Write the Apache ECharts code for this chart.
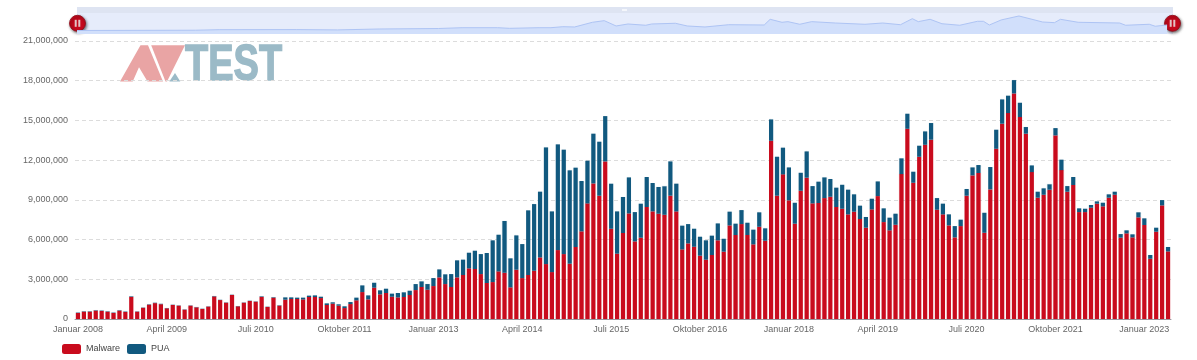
<!DOCTYPE html>
<html><head><meta charset="utf-8">
<style>html,body{margin:0;padding:0;background:#fff}#c{width:1197px;height:360px}</style>
<script src="https://cdn.jsdelivr.net/npm/echarts@6/dist/echarts.min.js"></script>
</head><body><div id="c"></div>
<script>
const monthNames = ['Januar','Februar','März','April','Mai','Juni','Juli','August','September','Oktober','November','Dezember'];
const firstYear = 2008;
const monthCount = 185;
const yTicks = {max:21000000, step:3000000};
// Millions of samples per month.
const stackTopM = [
.48,.58,.58,.66,.63,.58,.48,.66,.56,1.7,.57,.86,1.1,1.22,1.14,.82,1.07,1.02,.72,1.02,.89,.77,.95,1.72,1.44,1.24,1.82,.97,1.24,1.37,1.32,1.7,.92,1.64,1.03,1.62,1.62,1.6,
1.6,1.75,1.77,1.67,1.17,1.25,1.1,.95,1.27,1.6,2.52,1.77,2.72,2.15,2.27,1.9,1.95,2.0,2.12,2.62,2.82,2.62,3.07,3.72,3.35,3.37,4.4,4.45,4.97,5.12,4.87,4.95,5.9,6.32,7.35,4.55,6.27,5.62,8.15,8.62,9.55,12.87,8.07,13.1,12.7,11.15,11.35,10.35,11.87,13.9,13.3,15.22,10.15,8.07,
9.15,10.62,8.02,8.65,10.65,10.2,9.9,9.95,11.82,10.15,7.0,7.12,6.77,6.17,5.9,6.25,7.17,6.02,8.05,7.15,8.17,7.22,6.7,8.0,6.8,14.97,12.17,12.85,11.37,8.72,10.97,12.57,9.97,10.3,10.62,10.5,9.85,10.07,9.7,9.35,8.5,7.65,9.02,10.32,8.3,7.6,7.9,
12.05,15.4,11.05,13.0,14.07,14.7,9.07,8.65,7.85,6.97,7.45,9.75,11.37,11.55,7.97,11.4,14.2,16.47,16.75,17.92,16.22,14.4,11.52,9.55,9.8,10.1,14.32,11.95,9.97,10.65,8.3,8.27,8.55,8.82,8.72,9.35,9.55,6.37,6.65,6.35,8.0,7.55,4.8,6.85,8.92,5.4];
const malwareM = [
.45,.55,.55,.63,.6,.55,.45,.63,.53,1.66,.55,.84,1.07,1.19,1.11,.8,1.05,1.0,.7,1.0,.87,.75,.93,1.69,1.42,1.22,1.8,.95,1.22,1.35,1.3,1.66,.9,1.6,1.0,1.45,1.5,1.5,
1.47,1.65,1.65,1.57,1.05,1.15,1.0,.82,1.12,1.4,2.02,1.47,2.35,1.85,1.95,1.67,1.62,1.65,1.8,2.17,2.4,2.2,2.47,3.12,2.62,2.4,3.12,3.3,3.8,3.75,3.37,2.7,2.77,3.57,3.47,2.37,3.7,3.07,3.3,3.62,4.62,4.12,3.52,5.17,4.87,4.15,5.4,6.57,8.67,10.17,9.25,11.82,6.77,4.9,
6.45,7.92,5.82,6.1,8.4,8.07,7.9,7.82,9.25,8.07,5.22,5.67,5.42,4.75,4.45,4.8,5.9,5.05,7.02,6.3,7.12,6.3,5.6,6.92,5.87,13.37,9.25,10.85,8.9,7.15,9.62,10.6,8.67,8.7,9.07,9.17,8.4,8.27,7.85,8.05,7.5,6.85,8.22,9.22,7.27,6.65,7.07,
10.87,14.27,10.22,12.17,13.07,13.45,8.2,7.85,7.02,6.12,6.97,9.25,10.77,10.95,6.47,9.72,12.77,14.65,15.45,16.92,15.15,13.9,11.02,9.1,9.32,9.7,13.77,11.17,9.55,10.05,8.02,8.02,8.35,8.65,8.45,9.1,9.32,6.1,6.42,6.12,7.62,7.05,4.52,6.55,8.52,5.07];
// The overview strip above the plot: month index and its smoothed level.
const overviewMonths = [0,20,24,37,44,51,61,65,71,73,78,80,82,84,87,89,91,93,96,97,101,103,106,110,116,117,119,120,122,124,128,133,136,139,141,142,144,146,149,152,153,154,156,159,163,165,166,169,176,177,181,182,184];
const overviewLevels = [.4,.7,1.3,1.4,1.05,2.05,2.6,3.5,3.5,2.8,3.5,3.5,4.6,4.3,9.5,11.3,5.4,7.6,6.2,7.6,8.4,5.4,4.3,6.8,6.5,12.8,9.5,10.2,7.3,10.2,8.7,7.3,8.7,6.8,13.5,10.2,12.8,7.9,6.2,10.6,10.6,6.5,12.1,16.5,9.8,9.1,12.8,9.5,8.7,6.2,7.3,5.1,6.5];
// The readings above were taken at 25,000 per zoomed pixel; the axis gives 25,180.
const readingUnit = 1007000;

const categories = [];
for (let i = 0; i < monthCount; i++) {
  categories.push(monthNames[i % 12] + ' ' + (firstYear + Math.floor(i / 12)));
}
const malware = malwareM.map(v => Math.round(v * readingUnit));
const pua = stackTopM.map((v, i) => Math.round((v - malwareM[i]) * readingUnit));
const overview = overviewMonths.map((m, i) => [m, overviewLevels[i]]);

const font = '"Liberation Sans", Arial, sans-serif';
const barStyle = (c, h) => ({color: c, shadowColor: h, shadowBlur: 1});

function handle(cx, cy) {
  return {type:'group', x:cx, y:cy, z:100, children:[
    {type:'circle', shape:{r:8}, style:{fill:'#c4091d', stroke:'#8e0a18', lineWidth:.8, shadowColor:'rgba(0,0,0,.55)', shadowBlur:3, shadowOffsetX:1, shadowOffsetY:1.5}},
    {type:'rect', shape:{x:-2.8, y:-3.5, width:2, height:7}, style:{fill:'#e2c4c6'}},
    {type:'rect', shape:{x:.8, y:-3.5, width:2, height:7}, style:{fill:'#e2c4c6'}}
  ]};
}

const chart = echarts.init(document.getElementById('c'), null, {renderer:'canvas'});
chart.setOption({
  animation:false,
  backgroundColor:'#fff',
  textStyle:{fontFamily:font},
  grid:[
    {left:75, top:41, width:1096, height:278, containLabel:false},
    {left:77, top:13, width:1096, height:21, show:true, backgroundColor:'#e6ecfb', borderWidth:0}
  ],
  legend:{
    left:62, top:344, padding:0, itemWidth:19, itemHeight:10, itemGap:7, icon:'roundRect',
    textStyle:{color:'#444', fontSize:9, fontFamily:font},
    data:['Malware','PUA']
  },
  xAxis:[
    {type:'category', gridIndex:0, data:categories,
      axisLine:{lineStyle:{color:'#9a9aa2', width:1}},
      axisTick:{interval:14, length:3, lineStyle:{color:'#9a9aa2'}},
      axisLabel:{interval:14, color:'#666', fontSize:9, margin:6, fontFamily:font, hideOverlap:false},
      splitLine:{show:false}},
    {type:'value', gridIndex:1, min:0, max:185, show:false}
  ],
  yAxis:[
    {type:'value', gridIndex:0, min:0, max:yTicks.max, interval:yTicks.step,
      axisLine:{show:false}, axisTick:{show:false},
      axisLabel:{color:'#666', fontSize:9, margin:7, fontFamily:font, formatter:v => v.toLocaleString('en-US')},
      splitLine:{lineStyle:{color:'#dcdcdc', type:[4,3], width:1}}},
    {type:'value', gridIndex:1, min:-3.5, max:19.8, show:false}
  ],
  series:[
    {name:'Malware', type:'bar', stack:'a', barWidth:4.2, xAxisIndex:0, yAxisIndex:0, data:malware, itemStyle:barStyle('#c90b1d','rgba(201,11,29,.2)'), z:3},
    {name:'PUA', type:'bar', stack:'a', barWidth:4.2, xAxisIndex:0, yAxisIndex:0, data:pua, itemStyle:barStyle('#11597f','rgba(17,89,127,.2)'), z:3},
    {name:'Übersicht', type:'line', xAxisIndex:1, yAxisIndex:1, data:overview, showSymbol:false, silent:true,
      lineStyle:{color:'#aec4f4', width:1}, areaStyle:{color:'#d1dffb', opacity:1, origin:'start'}, z:2}
  ],
  graphic:[
    {type:'rect', z:1, shape:{x:77, y:7, width:1096, height:6}, style:{fill:'#dee4f2'}},
    {type:'rect', z:1, shape:{x:622, y:9, width:5, height:2}, style:{fill:'#f4f6fb'}},
    // AV-TEST logo
    {type:'polygon', z:0, shape:{points:[[120,81.5],[140.5,45.3],[148,45.3],[163,81.5],[147.5,81.5],[139,67.3],[132.7,81.5]]}, style:{fill:'#e9a4a4'}},
    {type:'polygon', z:0, shape:{points:[[151.2,45.3],[185,45.3],[167,81.5],[165.5,81.5]]}, style:{fill:'#e9a4a4'}},
    {type:'polygon', z:0, shape:{points:[[169.3,81.5],[175,73],[180.3,81.5]]}, style:{fill:'#9bbac7'}},
    {type:'text', z:0, x:185, y:91.5, scaleX:.76, scaleY:1,
      style:{text:'TEST', fill:'#9bbac7', stroke:'#9bbac7', lineWidth:1.4, font:'bold 50px "Liberation Sans", Arial, sans-serif', textAlign:'left', textVerticalAlign:'bottom', textBaseline:'alphabetic'}},
    handle(77.5, 23.3),
    handle(1172.5, 23.3)
  ]
});
</script></body></html>
